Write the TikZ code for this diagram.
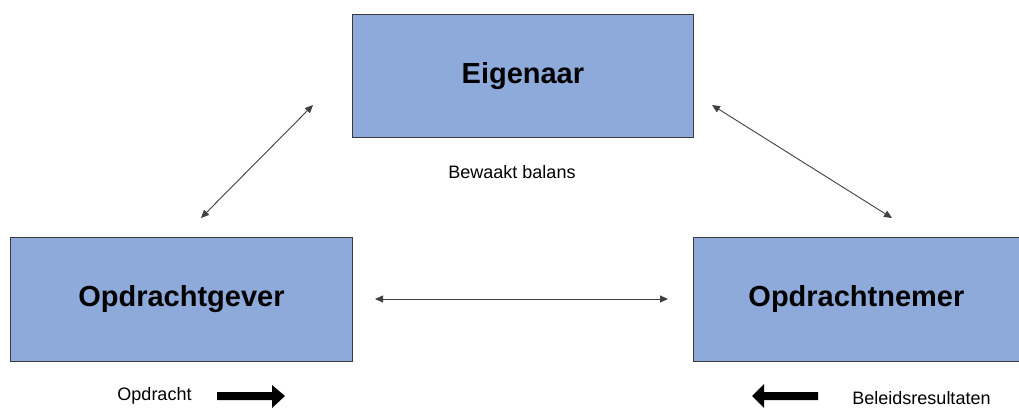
\documentclass[tikz,border=0pt]{standalone}
\usepackage{fontspec}
\setmainfont{Liberation Sans}
\usetikzlibrary{arrows.meta}
\definecolor{boxblue}{HTML}{8EAADB}
\definecolor{boxline}{HTML}{3A3A3A}
\begin{document}
\begin{tikzpicture}[x=1pt,y=-1pt,
  box/.style={draw=boxline, line width=0.8pt, fill=boxblue, inner sep=0pt, anchor=north west,
    font=\fontsize{29}{34}\selectfont\bfseries},
  conn/.style={draw=black!75, line width=0.9pt, {Triangle[length=8pt,width=7pt]}-{Triangle[length=8pt,width=7pt]}},
  lbl/.style={font=\fontsize{18}{21}\selectfont, inner sep=0pt},
  fat/.style={fill=black}]
\useasboundingbox (0,0) rectangle (1019,408);
\node[box, minimum width=341pt, minimum height=123pt] (eig) at (352,14) {Eigenaar};
\node[box, minimum width=342pt, minimum height=124pt] (gev) at (10,237) {Opdrachtgever};
\node[box, minimum width=326pt, minimum height=124pt] (nem) at (693,237) {Opdrachtnemer};
\node[lbl] (bal) at (512,172) {Bewaakt balans};
\node[lbl] (opd) at (154.5,396) {Opdracht};
\node[lbl] (bel) at (921.5,398) {Beleidsresultaten};
\coordinate (a1) at (313,105);
\coordinate (a2) at (201,218);
\coordinate (b1) at (712,105);
\coordinate (b2) at (892,218);
\coordinate (c1) at (375,299);
\coordinate (c2) at (668,299);
\draw[conn] (a1) -- (a2);
\draw[conn] (b1) -- (b2);
\draw[conn] (c1) -- (c2);
\fill[fat] (217,392) -- (272,392) -- (272,385) -- (285,396) -- (272,408) -- (272,400) -- (217,400) -- cycle;
\fill[fat] (818,392) -- (764,392) -- (764,384) -- (752,396) -- (764,408) -- (764,400) -- (818,400) -- cycle;
\end{tikzpicture}
\end{document}
